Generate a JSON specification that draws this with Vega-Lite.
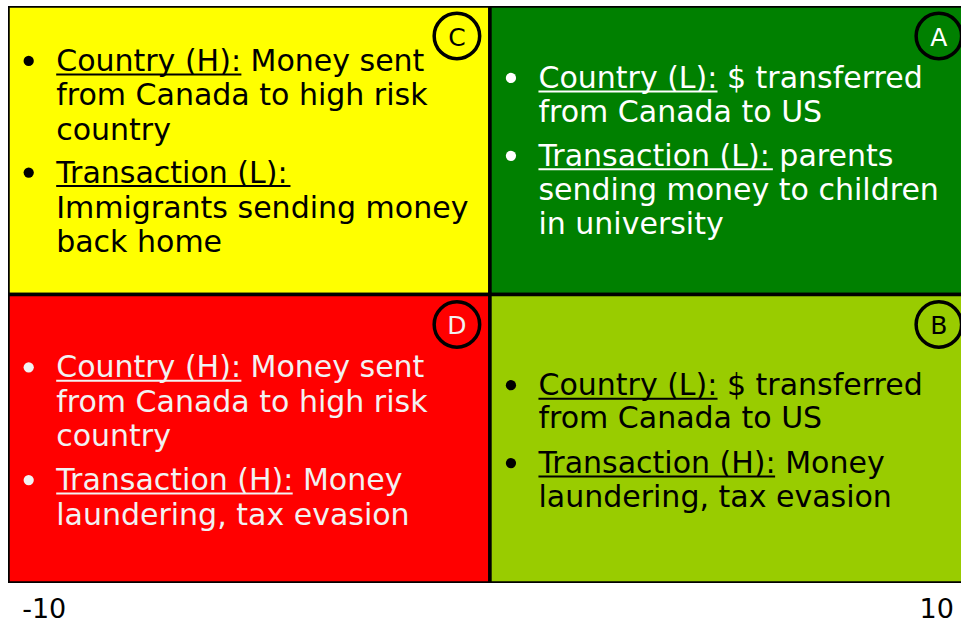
{
  "$schema": "https://vega.github.io/schema/vega-lite/v6.json",
  "width": 953,
  "height": 577,
  "autosize": {"type": "none"},
  "padding": {"left": 8, "top": 6, "right": 0, "bottom": 40},
  "background": "white",
  "config": {"view": {"stroke": null}, "font": "DejaVu Sans"},
  "datasets": {
    "quads": [
      {"q": "C", "x": -10.8, "x2": 0, "y": 0, "y2": 10},
      {"q": "A", "x": 0, "x2": 10.8, "y": 0, "y2": 10},
      {"q": "D", "x": -10.8, "x2": 0, "y": -10, "y2": 0},
      {"q": "B", "x": 0, "x2": 10.8, "y": -10, "y2": 0}
    ],
    "lines": [
      {"q": "C", "x": -9.72, "y": 7.75, "text": "Country (H): Money sent", "ul": -5.57, "bullet": true},
      {"q": "C", "x": -9.72, "y": 6.56, "text": "from Canada to high risk", "ul": null, "bullet": false},
      {"q": "C", "x": -9.72, "y": 5.36, "text": "country", "ul": null, "bullet": false},
      {"q": "C", "x": -9.72, "y": 3.88, "text": "Transaction (L):", "ul": -4.47, "bullet": true},
      {"q": "C", "x": -9.72, "y": 2.66, "text": "Immigrants sending money", "ul": null, "bullet": false},
      {"q": "C", "x": -9.72, "y": 1.49, "text": "back home", "ul": null, "bullet": false},
      {"q": "A", "x": 1.087, "y": 7.16, "text": "Country (L): $ transferred", "ul": 5.10, "bullet": true},
      {"q": "A", "x": 1.087, "y": 5.99, "text": "from Canada to US", "ul": null, "bullet": false},
      {"q": "A", "x": 1.087, "y": 4.46, "text": "Transaction (L): parents", "ul": 6.34, "bullet": true},
      {"q": "A", "x": 1.087, "y": 3.29, "text": "sending money to children", "ul": null, "bullet": false},
      {"q": "A", "x": 1.087, "y": 2.08, "text": "in university", "ul": null, "bullet": false},
      {"q": "D", "x": -9.72, "y": -2.87, "text": "Country (H): Money sent", "ul": -5.57, "bullet": true},
      {"q": "D", "x": -9.72, "y": -4.08, "text": "from Canada to high risk", "ul": null, "bullet": false},
      {"q": "D", "x": -9.72, "y": -5.26, "text": "country", "ul": null, "bullet": false},
      {"q": "D", "x": -9.72, "y": -6.78, "text": "Transaction (H): Money", "ul": -4.42, "bullet": true},
      {"q": "D", "x": -9.72, "y": -7.99, "text": "laundering, tax evasion", "ul": null, "bullet": false},
      {"q": "B", "x": 1.087, "y": -3.49, "text": "Country (L): $ transferred", "ul": 5.10, "bullet": true},
      {"q": "B", "x": 1.087, "y": -4.64, "text": "from Canada to US", "ul": null, "bullet": false},
      {"q": "B", "x": 1.087, "y": -6.19, "text": "Transaction (H): Money", "ul": 6.39, "bullet": true},
      {"q": "B", "x": 1.087, "y": -7.37, "text": "laundering, tax evasion", "ul": null, "bullet": false}
    ],
    "badges": [
      {"q": "C", "x": -0.74, "y": 8.96, "letter": "C"},
      {"q": "A", "x": 10.06, "y": 8.96, "letter": "A"},
      {"q": "D", "x": -0.74, "y": -1.04, "letter": "D"},
      {"q": "B", "x": 10.06, "y": -1.04, "letter": "B"}
    ]
  },
  "encoding": {
    "x": {
      "field": "x",
      "type": "quantitative",
      "scale": {"domain": [-10.8, 10.556], "nice": false, "zero": false},
      "axis": {
        "values": [-10, 10],
        "labelExpr": "datum.value < 0 ? '-' + abs(datum.value) : '' + datum.value",
        "ticks": false,
        "tickSize": 0,
        "domain": false,
        "grid": false,
        "title": null,
        "labelFont": "DejaVu Sans",
        "labelFontSize": 27,
        "labelColor": "black",
        "labelPadding": 13,
        "labelFlush": false,
        "labelOverlap": false
      }
    },
    "y": {
      "field": "y",
      "type": "quantitative",
      "scale": {"domain": [-10, 10], "nice": false, "zero": false},
      "axis": null
    }
  },
  "layer": [
    {
      "data": {"name": "quads"},
      "mark": {"type": "rect", "stroke": "black", "strokeWidth": 3.5, "clip": true},
      "encoding": {
        "x2": {"field": "x2"},
        "y2": {"field": "y2"},
        "fill": {
          "field": "q",
          "type": "nominal",
          "scale": {"domain": ["A", "B", "C", "D"], "range": ["#008000", "#99CC00", "#FFFF00", "#FF0000"]},
          "legend": null
        }
      }
    },
    {
      "data": {"name": "lines"},
      "mark": {"type": "text", "align": "left", "baseline": "alphabetic", "fontSize": 30, "font": "DejaVu Sans"},
      "encoding": {
        "text": {"field": "text"},
        "color": {
          "field": "q",
          "type": "nominal",
          "scale": {"domain": ["A", "B", "C", "D"], "range": ["#FFFFFF", "#000000", "#000000", "#F2F2F2"]},
          "legend": null
        }
      }
    },
    {
      "data": {"name": "lines"},
      "transform": [{"filter": "isValid(datum.ul)"}],
      "mark": {"type": "rule", "strokeWidth": 2, "yOffset": 3.5},
      "encoding": {
        "x2": {"field": "ul"},
        "color": {"field": "q", "type": "nominal", "legend": null}
      }
    },
    {
      "data": {"name": "lines"},
      "transform": [{"filter": "datum.bullet"}],
      "mark": {"type": "point", "shape": "circle", "filled": true, "opacity": 1, "size": 105, "xOffset": -27.5, "yOffset": -10},
      "encoding": {
        "color": {"field": "q", "type": "nominal", "legend": null}
      }
    },
    {
      "data": {"name": "badges"},
      "mark": {"type": "point", "shape": "circle", "filled": false, "stroke": "black", "strokeWidth": 3.5, "opacity": 1, "size": 2070, "clip": true},
      "encoding": {}
    },
    {
      "data": {"name": "badges"},
      "mark": {"type": "text", "align": "center", "baseline": "middle", "fontSize": 25, "font": "DejaVu Sans", "dy": 1.5},
      "encoding": {
        "text": {"field": "letter"},
        "color": {"field": "q", "type": "nominal", "legend": null}
      }
    }
  ]
}
